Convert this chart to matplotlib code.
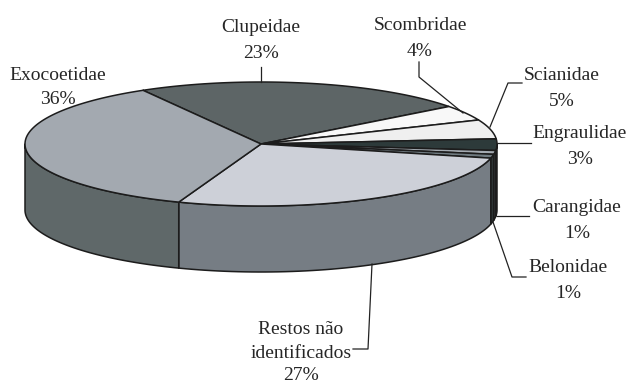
import numpy as np
import matplotlib
matplotlib.use("Agg")
import matplotlib.pyplot as plt
from matplotlib.patches import Polygon

# prey families, clockwise from the back of the pie
families = ["Clupeidae", "Scombridae", "Scianidae", "Engraulidae",
            "Carangidae", "Belonidae", "Restos não\nidentificados", "Exocoetidae"]
percent = [23, 4, 5, 3, 1, 1, 27, 36]
top_colors = ["#5d6566", "#f8f8f8", "#efefef", "#2d3a3a",
              "#a3a9b0", "#6f7a80", "#cdd0d8", "#a3a9b0"]
side_colors = ["#3f4646", "#a8a8a8", "#a0a0a0", "#1f2828",
               "#4a5052", "#2f3636", "#767d84", "#5f6869"]

START_ANGLE = 120
CX, CY = 261, 144
RX, RY = 236, 62
DEPTH = 66
EDGE = "#1c1c1c"
TEXT = "#262626"
FONT_SIZE = 14


def rim(t):
    return CX + RX * np.cos(t), CY - RY * np.sin(t)


def draw_pie(ax):
    shares = np.array(percent) / sum(percent) * 360
    ends = START_ANGLE - np.cumsum(shares)
    starts = ends + shares

    # walls first, only the part of the rim facing the viewer
    for a0, a1, c in zip(starts, ends, side_colors):
        lo, hi = max(a1, -180), min(a0, 0)
        if lo >= hi:
            continue
        t = np.radians(np.linspace(hi, lo, 60))
        x, y = rim(t)
        pts = np.column_stack([np.r_[x, x[::-1]], np.r_[y, y[::-1] + DEPTH]])
        ax.add_patch(Polygon(pts, closed=True, fc=c, ec=EDGE, lw=1.1, joinstyle="round"))

    for a0, a1, c in zip(starts, ends, top_colors):
        t = np.radians(np.linspace(a0, a1, 120))
        x, y = rim(t)
        pts = np.column_stack([np.r_[CX, x], np.r_[CY, y]])
        ax.add_patch(Polygon(pts, closed=True, fc=c, ec=EDGE, lw=1.1, joinstyle="round"))


def main():
    plt.rcParams["font.family"] = ["Liberation Serif", "DejaVu Serif"]
    fig = plt.figure(figsize=(6.29, 3.85), dpi=100)
    ax = fig.add_axes([0, 0, 1, 1])
    ax.set_xlim(0, 629)
    ax.set_ylim(385, 0)
    ax.axis("off")

    draw_pie(ax)

    # x centre, then y of each name line, then y of the percentage
    label_pos = [(261, [28], 54), (420, [25], 51), (562, [75], 101), (580, [134], 160),
                 (577, [208], 234), (568, [268], 294), (301, [329, 354], 375), (58, [76], 100)]
    for name, pct, (x, name_ys, pct_y) in zip(families, percent, label_pos):
        for part, y in zip(name.split("\n"), name_ys):
            ax.text(x, y, part, ha="center", va="center", fontsize=FONT_SIZE, color=TEXT)
        ax.text(x, pct_y, f"{pct}%", ha="center", va="center", fontsize=FONT_SIZE, color=TEXT)

    leaders = [
        [(261, 67), (261, 82)],
        [(419, 62), (419, 77), (463, 113)],
        [(522, 83), (508, 83), (490, 127)],
        [(497, 143), (531, 143)],
        [(497, 216), (529, 216)],
        [(493, 222), (512, 277), (526, 277)],
        [(372, 264), (368, 349), (353, 349)],
    ]
    for line in leaders:
        xs, ys = zip(*line)
        ax.plot(xs, ys, color="#222222", lw=0.9)

    fig.savefig("out.png", dpi=100)


if __name__ == "__main__":
    main()
